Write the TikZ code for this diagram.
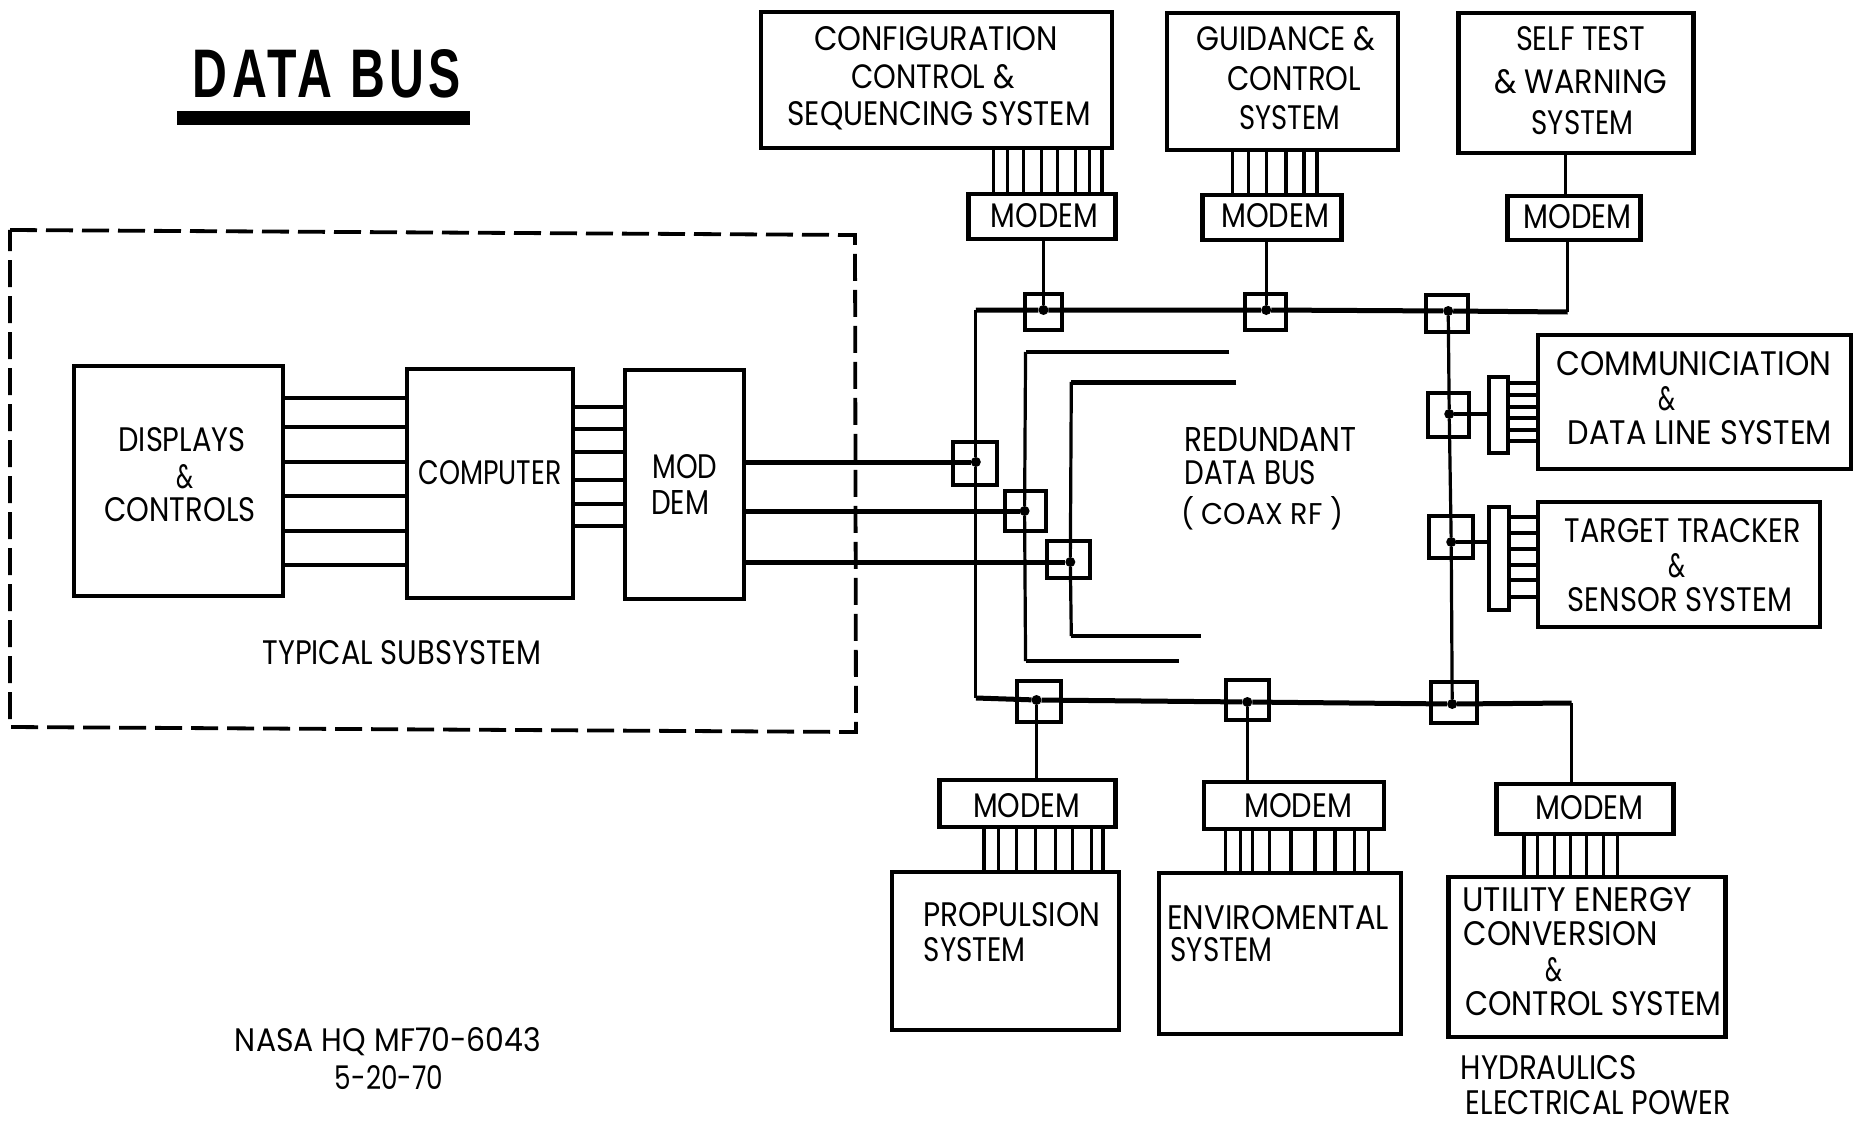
\documentclass[tikz,border=0pt]{standalone}
\usepackage{fontspec}
\setmainfont{Poppins}
\newfontfamily\titlefont{Liberation Sans}[LetterSpace=9]
\newcommand\ft[3][24pt]{\resizebox{#2pt}{#1}{#3}}
\newcommand\bx[6][boxst]{%
  \pgfmathsetmacro\bxw{#5-#3}\pgfmathsetmacro\bxh{#6-#4}%
  \pgfmathsetmacro\bxx{(#5+#3)/2}\pgfmathsetmacro\bxy{(#6+#4)/2}%
  \node[#1,minimum width=\bxw pt,minimum height=\bxh pt] (#2) at (\bxx,\bxy) {};}
\tikzset{
  boxst/.style={draw=black,line width=4.2pt,fill=white,inner sep=0pt,outer sep=0pt},
  mod/.style={boxst,line width=4.6pt},
  jbox/.style={draw=black,line width=4pt,inner sep=0pt,outer sep=0pt},
  dotn/.style={circle,fill=black,inner sep=0pt,minimum size=10pt,outer sep=0pt},
  tx/.style={inner sep=0pt,outer sep=0pt,text=black},
  wire/.style={draw=black,line width=3.4pt},
  heavy/.style={draw=black,line width=5pt},
  thinbus/.style={draw=black,line width=3.2pt},
  regionb/.style={draw=black,line width=3.8pt,dash pattern=on 27pt off 9pt}
}
\begin{document}
\begin{tikzpicture}[x=1pt,y=-1pt]
\useasboundingbox (0,0) rectangle (1859,1123);
\fill[white] (0,0) rectangle (1859,1123);

% title
\node[tx] (title) at (327,74) {\ft[48pt]{268}{\titlefont\bfseries DATA\ BUS}};
\coordinate (ulA) at (177,118);
\coordinate (ulB) at (470,118);
\draw[draw=black,line width=14pt] (ulA) -- (ulB);

% typical subsystem region
\coordinate (rA) at (10,230); \coordinate (rB) at (855,235);
\coordinate (rC) at (856,732); \coordinate (rD) at (10,727);
\draw[regionb] (rA) -- (rB) -- (rC) -- (rD) -- cycle;

\begin{scope}[x=0.9945pt,xshift=4.2pt]
% bus junction points
\coordinate (tl) at (977,310);
\coordinate (tr) at (1572,312);
\coordinate (bl) at (977,698);
\coordinate (br) at (1576,703);
\node[dotn] (d1) at (1045,310) {};
\node[dotn] (d2) at (1269,310) {};
\node[dotn] (d3) at (1452,311) {};
\node[dotn] (d4) at (1453,414) {};
\node[dotn] (d5) at (1455,542) {};
\node[dotn] (d6) at (1456,704) {};
\node[dotn] (d7) at (1250,702) {};
\node[dotn] (d8) at (1038,700) {};
\node[dotn] (d9) at (977,462) {};
\node[dotn] (d10) at (1026,511) {};
\node[dotn] (d11) at (1072,562) {};
\bx[jbox]{j1}{1027}{294}{1064}{330}
\bx[jbox]{j2}{1248}{294}{1289}{330}
\bx[jbox]{j3}{1430}{295}{1472}{332}
\bx[jbox]{j4}{1432}{393}{1473}{437}
\bx[jbox]{j5}{1433}{516}{1477}{558}
\bx[jbox]{j6}{1435}{682}{1481}{723}
\bx[jbox]{j7}{1229}{680}{1272}{720}
\bx[jbox]{j8}{1018}{681}{1062}{722}
\bx[jbox]{j9}{954}{442}{998}{485}
\bx[jbox]{j10}{1006}{491}{1047}{531}
\bx[jbox]{j11}{1049}{541}{1092}{578}

% buses
\draw[heavy] (tl) -- (d1) -- (d2) -- (d3) -- (tr);
\draw[heavy] (bl) -- (d8) -- (d7) -- (d6) -- (br);
\draw[thinbus] (tl) -- (d9) -- (bl);
\draw[thinbus] (d3) -- (d4) -- (d5) -- (d6);
% redundant bus stubs
\coordinate (r1a) at (1232,352); \coordinate (r1b) at (1027,352);
\coordinate (r1c) at (1027,661); \coordinate (r1d) at (1181,661);
\draw[heavy,line width=4pt] (r1a) -- (r1b);
\draw[thinbus] (r1b) -- (d10) -- (r1c);
\draw[heavy,line width=4.4pt] (r1c) -- (r1d);
\coordinate (r2a) at (1239,382); \coordinate (r2b) at (1073,382);
\coordinate (r2c) at (1073,636); \coordinate (r2d) at (1203,636);
\draw[heavy] (r2a) -- (r2b);
\draw[thinbus] (r2b) -- (d11) -- (r2c);
\draw[heavy,line width=4.4pt] (r2c) -- (r2d);

% top subsystems
\bx{cfg}{762}{12}{1113}{148}
\bx{gdn}{1170}{13}{1401}{150}
\bx{slf}{1463}{13}{1698}{153}
\bx[mod]{mc}{970}{194}{1117}{239}
\bx[mod]{mg}{1205}{195}{1344}{240}
\bx[mod]{ms}{1512}{196}{1645}{240}
\foreach \x in {995,1009,1025,1043,1059,1077,1091,1104}
  \draw[wire] (cfg.south -| \x,0) -- (mc.north -| \x,0);
\foreach \x in {1235,1251,1269,1289,1307,1320}
  \draw[wire] (gdn.south -| \x,0) -- (mg.north -| \x,0);
\draw[wire] (slf.south -| 1570,0) -- (ms.north -| 1570,0);
\draw[wire] (mc.south -| d1) -- (d1);
\draw[wire] (mg.south -| d2) -- (d2);
\draw[wire] (ms.south -| tr) -- (tr);
\node[tx] (t1) at (937,39) {\ft{244}{CONFIGURATION}};
\node[tx] (t2) at (934,77) {\ft{163}{CONTROL \&}};
\node[tx] (t3) at (940,116) {\ft{303}{SEQUENCING SYSTEM}};
\node[tx] (t4) at (1289,39) {\ft{179}{GUIDANCE \&}};
\node[tx] (t5) at (1297,79) {\ft{134}{CONTROL}};
\node[tx] (t6) at (1293,118) {\ft{101}{SYSTEM}};
\node[tx] (t7) at (1585,39) {\ft{129}{SELF TEST}};
\node[tx] (t8) at (1585,82) {\ft{173}{\& WARNING}};
\node[tx] (t9) at (1587,123) {\ft{102}{SYSTEM}};
\node[tx] (t10) at (1046,216) {\ft{107}{MODEM}};
\node[tx] (t11) at (1278,216) {\ft{108}{MODEM}};
\node[tx] (t12) at (1582,217) {\ft{108}{MODEM}};

% right subsystems
\bx{com}{1543}{335}{1856}{469}
\bx{trg}{1543}{502}{1825}{627}
\bx[jbox]{cb}{1493}{377}{1512}{453}
\bx[jbox]{tb}{1493}{507}{1513}{610}
\foreach \y in {383,395,407,418,430,441}
  \draw[wire] (cb.east |- 0,\y) -- (com.west |- 0,\y);
\foreach \y in {517,533,549,565,580,597}
  \draw[wire] (tb.east |- 0,\y) -- (trg.west |- 0,\y);
\draw[wire] (d4) -- (cb.west |- d4);
\draw[wire] (d5) -- (tb.west |- d5);
\node[tx] (t13) at (1699,364) {\ft{275}{COMMUNICIATION}};
\node[tx] (t14) at (1672,399) {\ft{17}{\&}};
\node[tx] (t15) at (1705,433) {\ft{264}{DATA LINE SYSTEM}};
\node[tx] (t16) at (1688,531) {\ft{236}{TARGET TRACKER}};
\node[tx] (t17) at (1682,566) {\ft{17}{\&}};
\node[tx] (t18) at (1685,600) {\ft{224}{SENSOR SYSTEM}};
\node[tx] (t19) at (1273,440) {\ft{172}{REDUNDANT}};
\node[tx] (t20) at (1253,473) {\ft{132}{DATA BUS}};
\node[tx] (t21) at (1265,513) {\ft[28pt]{162}{( COAX RF )}};

% bottom subsystems
\bx[mod]{mp}{941}{780}{1117}{827}
\bx[mod]{me}{1207}{782}{1387}{829}
\bx[mod]{mu}{1501}{784}{1678}{834}
\bx{prp}{893}{872}{1120}{1030}
\bx{env}{1162}{873}{1404}{1034}
\bx{utl}{1453}{877}{1730}{1037}
\foreach \x in {985,1000,1018,1037,1057,1074,1093,1105}
  \draw[wire] (mp.south -| \x,0) -- (prp.north -| \x,0);
\foreach \x in {1228,1243,1255,1272,1294,1318,1338,1358,1372}
  \draw[wire] (me.south -| \x,0) -- (env.north -| \x,0);
\foreach \x in {1528,1542,1559,1575,1591,1608,1622}
  \draw[wire] (mu.south -| \x,0) -- (utl.north -| \x,0);
\draw[wire] (d8) -- (mp.north -| d8);
\draw[wire] (d7) -- (me.north -| d7);
\draw[wire] (br) -- (mu.north -| br);
\node[tx] (t22) at (1028,806) {\ft{107}{MODEM}};
\node[tx] (t23) at (1301,806) {\ft{108}{MODEM}};
\node[tx] (t24) at (1594,808) {\ft{108}{MODEM}};
\node[tx] (t25) at (1013,915) {\ft{177}{PROPULSION}};
\node[tx] (t26) at (976,950) {\ft{102}{SYSTEM}};
\node[tx] (t27) at (1281,918) {\ft{222}{ENVIROMENTAL}};
\node[tx] (t28) at (1224,950) {\ft{102}{SYSTEM}};
\node[tx] (t29) at (1582,900) {\ft{230}{UTILITY ENERGY}};
\node[tx] (t30) at (1565,934) {\ft{194}{CONVERSION}};
\node[tx] (t31) at (1558,970) {\ft{17}{\&}};
\node[tx] (t32) at (1598,1004) {\ft{256}{CONTROL SYSTEM}};
\node[tx] (t33) at (1553,1068) {\ft{176}{HYDRAULICS}};
\node[tx] (t34) at (1603,1103) {\ft{265}{ELECTRICAL POWER}};
\end{scope}

% typical subsystem contents
\bx{dsp}{74}{366}{283}{596}
\bx{cpu}{407}{369}{573}{598}
\bx{mdm}{625}{370}{744}{599}
\foreach \y in {398,427,462,496,531,565}
  \draw[heavy,line width=4.2pt] (dsp.east |- 0,\y) -- (cpu.west |- 0,\y);
\foreach \y in {407,429,452,480,504,526}
  \draw[heavy,line width=4.2pt] (cpu.east |- 0,\y) -- (mdm.west |- 0,\y);
\draw[heavy] (mdm.east |- d9) -- (d9);
\draw[heavy] (mdm.east |- d10) -- (d10);
\draw[heavy] (mdm.east |- d11) -- (d11);
\node[tx] (t35) at (182,440) {\ft{127}{DISPLAYS}};
\node[tx] (t36) at (185,477) {\ft{17}{\&}};
\node[tx] (t37) at (180,510) {\ft{151}{CONTROLS}};
\node[tx] (t38) at (490,473) {\ft{143}{COMPUTER}};
\node[tx] (t39) at (685,467) {\ft{65}{MOD}};
\node[tx] (t40) at (680,502) {\ft{58}{DEM}};
\node[tx] (t41) at (402,653) {\ft{279}{TYPICAL SUBSYSTEM}};

% reference
\node[tx] (t42) at (388,1042) {\ft{306}{NASA HQ MF70-6043}};
\node[tx] (t43) at (389,1078) {\ft{108}{5-20-70}};
\end{tikzpicture}
\end{document}
